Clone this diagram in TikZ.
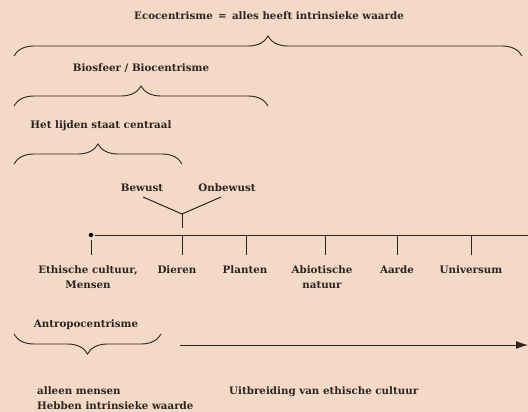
\documentclass[tikz,border=0pt]{standalone}
\usepackage{fontspec}
\setmainfont{DejaVu Serif}
\usetikzlibrary{decorations.pathreplacing,arrows.meta}
\definecolor{achter}{HTML}{F3D9C6}
\definecolor{inkt}{HTML}{2A2422}
\tikzset{lbl/.style={font=\fontsize{10.3}{15}\selectfont\bfseries, text=inkt, inner sep=0pt},
  lijn/.style={draw=inkt, line width=1pt},
  accolade/.style={draw=inkt, line width=0.9pt, decorate, decoration={brace, amplitude=20pt}},
  accoladeonder/.style={accolade, decoration={brace, mirror, amplitude=20pt}}}
\newcommand{\streep}[5]{ \coordinate (#1) at ( #2 , 235 ); \coordinate (#1o) at ( #2 , 255 ); \draw[lijn] (#1) -- (#1o); \node[lbl,align=center,anchor=north] (#1l) at ( #3 , 265 ){#4\\#5};}

\begin{document}
\begin{tikzpicture}[x=1pt,y=-1pt]
    \fill[achter] ( 0 , 0 ) rectangle ( 528 , 412 );
    \useasboundingbox ( 0 , 0 ) rectangle ( 528 , 412 );
    % accolades boven
    \node[lbl] (eco) at ( 269 , 16 ){Ecocentrisme \,=\, alles heeft intrinsieke waarde};
    \coordinate (ecoL) at ( 14 , 56 ); \coordinate (ecoR) at ( 522 , 56 );
    \draw[accolade] (ecoL) -- (ecoR);
    \node[lbl] (bio) at ( 141 , 68 ){Biosfeer / Biocentrisme};
    \coordinate (bioL) at ( 14 , 106 ); \coordinate (bioR) at ( 268 , 106 );
    \draw[accolade] (bioL) -- (bioR);
    \node[lbl] (lijden) at ( 101 , 126 ){Het lijden staat centraal};
    \coordinate (lijL) at ( 14 , 164 ); \coordinate (lijR) at ( 182 , 164 );
    \draw[accolade] (lijL) -- (lijR);
    % bewust / onbewust
    \node[lbl] (bewust) at ( 142 , 188 ){Bewust};
    \node[lbl] (onbewust) at ( 227 , 188 ){Onbewust};
    \coordinate (bw) at ( 143 , 197 ); \coordinate (obw) at ( 221 , 197 );
    \coordinate (splits) at ( 182 , 214 ); \coordinate (voet) at ( 182 , 228 );
    \draw[lijn] (bw) -- (splits) -- (obw);
    \draw[lijn] (splits) -- (voet);
    % tijdlijn
    \node[circle,fill=black,inner sep=0pt,minimum size=4.5pt] (begin) at ( 91 , 235 ){};
    \coordinate (eind) at ( 528 , 235 );
    \draw[lijn] ( 95 , 235 ) -- (eind);
    \coordinate (t0) at ( 91 , 240 ); \coordinate (t0o) at ( 91 , 255 );
    \draw[lijn] (t0) -- (t0o);
    \node[lbl,align=center,anchor=north] (mens) at ( 88 , 265 ){Ethische cultuur,\\Mensen};
    \streep{dier}{182}{177}{Dieren}{}
    \streep{plant}{246}{245}{Planten}{}
    \streep{abio}{325}{322}{Abiotische}{natuur}
    \streep{aarde}{397}{397}{Aarde}{}
    \streep{univ}{471}{471}{Universum}{}
    % onder
    \node[lbl] (antro) at ( 86 , 325 ){Antropocentrisme};
    \coordinate (antL) at ( 14 , 334 ); \coordinate (antR) at ( 161 , 334 );
    \draw[accoladeonder] (antL) -- (antR);
    \coordinate (pijlB) at ( 180 , 345 ); \coordinate (pijlE) at ( 528 , 345 );
    \draw[lijn,-{Latex[length=12pt,width=8pt]}] (pijlB) -- (pijlE);
    \node[lbl,align=left,anchor=north west] (alleen) at ( 37 , 386 ){alleen mensen\\Hebben intrinsieke waarde};
    \node[lbl,anchor=north west] (uitbr) at ( 229 , 386 ){Uitbreiding van ethische cultuur};
\end{tikzpicture}
\end{document}
